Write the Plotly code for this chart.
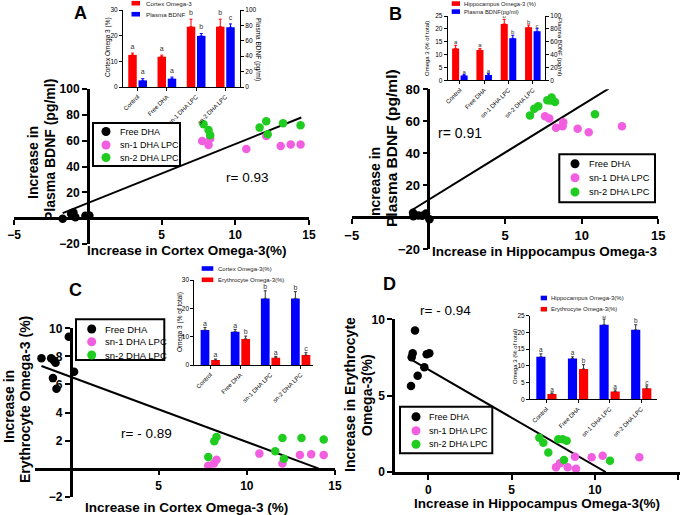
import plotly.graph_objects as go

W, H = 685, 515
FONT = "Liberation Sans, Arial, sans-serif"

# ---------------- data ----------------
group_names = ["Free DHA", "sn-1 DHA LPC", "sn-2 DHA LPC"]
group_colors = ["#000000", "#F25EE0", "#1FCC1F"]
bar_cats = ["Control", "Free DHA", "sn-1 DHA LPC", "sn-2 DHA LPC"]

# Panel A : cortex omega-3 vs plasma BDNF
A_free_x = [-1.70, -1.13, -0.97, -0.84, -0.16, 0.11]
A_free_y = [-0.5, 3.4, 4.4, 0.8, 1.8, 2.1]
A_sn1_x = [7.76, 8.19, 8.30, 10.75, 12.10, 13.08, 13.76, 14.43]
A_sn1_y = [59.7, 56.6, 61.5, 53.5, 63.6, 55.8, 57.1, 57.1]
A_sn2_x = [7.85, 8.19, 8.30, 11.65, 12.10, 12.20, 13.24, 14.43]
A_sn2_y = [72.7, 68.3, 64.2, 70.1, 75.1, 64.9, 73.5, 71.9]
A_fit_x = [-1.70, 14.48]
A_fit_y = [3.9, 77.9]
A_r = "r= 0.93"
A_bar_left = [12.5, 11.8, 23.5, 23.5]
A_bar_left_err = [0.7, 0.6, 2.9, 2.9]
A_bar_left_letters = ["a", "a", "b", "b"]
A_bar_right = [8.6, 10.8, 66.4, 77.6]
A_bar_right_err = [2.2, 2.1, 3.0, 4.3]
A_bar_right_letters = ["a", "a", "b", "c"]

# Panel B : hippocampus omega-3 vs plasma BDNF
B_free_x = [-1.00, -0.98, -0.65, -0.40, -0.15, 0.07]
B_free_y = [2.9, 0.6, 1.2, 0.9, 2.3, -1.2]
B_sn1_x = [7.61, 7.89, 8.33, 8.80, 8.76, 9.74, 10.46, 12.63]
B_sn1_y = [63.1, 61.7, 56.0, 59.4, 56.9, 55.4, 53.1, 56.9]
B_sn2_x = [6.63, 6.91, 7.17, 7.76, 8.04, 8.26, 7.95, 10.87]
B_sn2_y = [63.7, 67.9, 69.4, 73.1, 74.8, 72.1, 73.0, 64.4]
B_fit_x = [-1.09, 11.76]
B_fit_y = [4.4, 80.4]
B_r = "r= 0.91"
B_bar_left = [12.4, 11.8, 21.9, 20.6]
B_bar_left_err = [1.2, 0.6, 1.8, 0.9]
B_bar_left_letters = ["a", "a", "b", "b"]
B_bar_right = [7.3, 8.3, 65.3, 76.2]
B_bar_right_err = [1.5, 2.1, 4.7, 4.1]
B_bar_right_letters = ["a", "a", "b", "c"]

# Panel C : cortex omega-3 vs erythrocyte omega-3
C_free_x = [-1.65, -1.10, -0.95, -0.85, -1.00, -0.80, -0.10, 0.20]
C_free_y = [7.86, 7.86, 7.70, 7.55, 6.45, 5.70, 9.40, 6.90]
C_sn1_x = [7.81, 8.13, 8.28, 10.71, 12.02, 13.01, 13.65, 14.36]
C_sn1_y = [0.21, 0.36, 0.64, 1.07, 0.36, 0.98, 1.02, 0.98]
C_sn2_x = [7.81, 8.15, 8.28, 11.61, 12.02, 12.10, 13.10, 14.36]
C_sn2_y = [0.83, 1.95, 2.26, 1.24, 2.19, 0.71, 2.19, 2.07]
C_fit_x = [-1.65, 14.08]
C_fit_y = [7.31, 0.0]
C_r = "r= - 0.89"
C_bar_left = [12.35, 11.76, 23.5, 23.5]
C_bar_left_err = [0.9, 0.8, 2.7, 2.4]
C_bar_left_letters = ["a", "a", "b", "b"]
C_bar_right = [1.76, 9.2, 2.6, 3.5]
C_bar_right_err = [0.35, 1.0, 0.45, 0.85]
C_bar_right_letters = ["a", "b", "a", "c"]

# Panel D : hippocampus omega-3 vs erythrocyte omega-3
D_free_x = [-0.80, -0.94, -1.00, -1.04, -0.64, -0.24, -0.10, 0.06]
D_free_y = [9.26, 7.77, 7.51, 5.63, 6.31, 6.86, 7.71, 7.77]
D_sn1_x = [7.66, 7.90, 8.36, 8.80, 8.86, 9.80, 10.46, 12.66]
D_sn1_y = [0.31, 0.57, 0.31, 1.00, 0.22, 0.96, 1.07, 0.96]
D_sn2_x = [6.66, 6.90, 7.20, 7.80, 8.06, 8.30, 8.14, 10.90]
D_sn2_y = [2.25, 1.92, 1.27, 2.14, 2.14, 2.05, 0.79, 0.74]
D_fit_x = [-1.00, 10.64]
D_fit_y = [7.34, 0.0]
D_r = "r= - 0.94"
D_bar_left = [12.7, 12.2, 22.3, 20.8]
D_bar_left_err = [0.9, 0.5, 1.7, 1.5]
D_bar_left_letters = ["a", "a", "b", "b"]
D_bar_right = [1.6, 9.07, 2.3, 3.3]
D_bar_right_err = [0.3, 1.3, 0.5, 0.7]
D_bar_right_letters = ["a", "b", "a", "c"]

RED = "#FF0000"
BLUE = "#0000FF"

# ---------------- helpers ----------------
fig = go.Figure()
layout = {}
shapes = []
annots = []


def px(x):
    return x / W


def py(y):
    return 1 - y / H


def ax_name(kind, n):
    return kind if n == 1 else f"{kind}{n}"


def lkey(kind, n):
    return kind + "axis" + ("" if n == 1 else str(n))


def text(x, y, s, size, bold=False, angle=0, xa="center", ya="middle", color="black"):
    annots.append(dict(x=px(x), y=py(y), xref="paper", yref="paper", text=s, showarrow=False,
                       textangle=angle, xanchor=xa, yanchor=ya,
                       font=dict(family=FONT, size=size, color=color,
                                 weight="bold" if bold else "normal")))


def main_panel(nx, ny, xdom, ydom, xr, yr, xtv, ytv, tick_size, series, fit, cross=True):
    # xdom (left px, right px) ; ydom (top px, bottom px)
    xa, ya = ax_name("x", nx), ax_name("y", ny)
    y0px = ydom[1] - (0 - yr[0]) / (yr[1] - yr[0]) * (ydom[1] - ydom[0])
    x0px = xdom[0] + (0 - xr[0]) / (xr[1] - xr[0]) * (xdom[1] - xdom[0])
    common = dict(showline=True, linecolor="black", linewidth=2.5, ticks="outside", ticklen=5,
                  tickwidth=2, tickcolor="black", showgrid=False, zeroline=False,
                  tickfont=dict(family=FONT, size=tick_size, color="black", weight="bold"))
    xl = dict(domain=[px(xdom[0]), px(xdom[1])], range=xr, tickvals=xtv, **common)
    yl = dict(domain=[py(ydom[1]), py(ydom[0])], range=yr, tickvals=ytv, **common)
    if cross:
        xl.update(anchor="free", position=py(y0px))
        yl.update(anchor="free", position=px(x0px))
    else:
        xl.update(anchor=ya)
        yl.update(anchor=xa)
    layout[lkey("x", nx)] = xl
    layout[lkey("y", ny)] = yl
    fig.add_trace(go.Scatter(x=fit[0], y=fit[1], mode="lines", line=dict(color="black", width=2),
                             xaxis=xa, yaxis=ya, showlegend=False, hoverinfo="skip"))
    for (sx, sy), name, col in zip(series, group_names, group_colors):
        fig.add_trace(go.Scatter(x=sx, y=sy, mode="markers", name=name,
                                 marker=dict(color=col, size=8.5, line=dict(width=0)),
                                 xaxis=xa, yaxis=ya, showlegend=False))


def legend_box(x0, y0, x1, y1, rows_y, mx, tx, size):
    shapes.append(dict(type="rect", xref="paper", yref="paper", x0=px(x0), x1=px(x1),
                       y0=py(y1), y1=py(y0), line=dict(color="black", width=2), fillcolor="white",
                       layer="above"))
    r = 4.5
    for yy, name, col in zip(rows_y, group_names, group_colors):
        shapes.append(dict(type="circle", xref="paper", yref="paper", x0=px(mx - r), x1=px(mx + r),
                           y0=py(yy + r), y1=py(yy - r), fillcolor=col, line=dict(width=0),
                           layer="above"))
        text(tx, yy, name, size, xa="left")


def inset(nx, nyl, nyr, xdom, ydom, xr, ylr, yldt, yrr, yrdt, left, right, errcol, gap_px, lsize):
    xa, yal = ax_name("x", nx), ax_name("y", nyl)
    yar = ax_name("y", nyr) if nyr else None
    hpx = ydom[1] - ydom[0]
    ax_common = dict(showline=True, linecolor="black", linewidth=1, ticks="outside", ticklen=3,
                     tickwidth=1, tickcolor="black", showgrid=False, zeroline=False,
                     tickfont=dict(family=FONT, size=6.5, color="black"))
    layout[lkey("x", nx)] = dict(domain=[px(xdom[0]), px(xdom[1])], range=xr, anchor=yal,
                                 tickvals=list(range(len(bar_cats))), ticktext=bar_cats,
                                 tickangle=-45, **{**ax_common,
                                                   "tickfont": dict(family=FONT, size=6, color="black")})
    layout[lkey("y", nyl)] = dict(domain=[py(ydom[1]), py(ydom[0])], range=ylr, dtick=yldt,
                                  anchor=xa, **ax_common)
    if nyr:
        layout[lkey("y", nyr)] = dict(range=yrr, dtick=yrdt, anchor=xa, overlaying=yal, side="right",
                                      **ax_common)
    offs = [-0.32, 0.03]
    wid = 0.29
    for (vals, errs, letters, col, axis), off in zip([left, right], offs):
        yaxis = yal if axis == "l" else yar
        rng = ylr if axis == "l" else yrr
        gap = gap_px * (rng[1] - rng[0]) / hpx
        fig.add_trace(go.Bar(x=list(range(len(vals))), y=vals, width=wid, offset=off,
                             marker=dict(color=col, line=dict(width=0)),
                             error_y=dict(type="data", array=errs, arrayminus=[0] * len(errs),
                                          symmetric=False, color=errcol or col, thickness=1, width=1.5),
                             xaxis=xa, yaxis=yaxis, showlegend=False))
        fig.add_trace(go.Scatter(x=[i + off + wid / 2 for i in range(len(vals))],
                                 y=[v + e + gap for v, e in zip(vals, errs)], mode="text", text=letters,
                                 textposition="middle center",
                                 textfont=dict(family=FONT, size=lsize, color="#333333"),
                                 xaxis=xa, yaxis=yaxis, showlegend=False, hoverinfo="skip"))


def swatch(x0, x1, yc, col, label, tx, size=6.2):
    shapes.append(dict(type="rect", xref="paper", yref="paper", x0=px(x0), x1=px(x1),
                       y0=py(yc + 2.3), y1=py(yc - 2.3), fillcolor=col, line=dict(width=0)))
    text(tx, yc, label, size, xa="left", color="#222222")


# ---------------- Panel A ----------------
main_panel(1, 1, (14, 309), (89, 244), [-5, 15], [-20, 100], [-5, 5, 10, 15],
           [-20, 20, 40, 60, 80, 100], 12,
           [(A_free_x, A_free_y), (A_sn1_x, A_sn1_y), (A_sn2_x, A_sn2_y)], (A_fit_x, A_fit_y))
inset(2, 2, 3, (123, 240), (10, 87), [-0.5, 3.5], [0, 30], 10, [0, 100], 20,
      (A_bar_left, A_bar_left_err, A_bar_left_letters, RED, "l"),
      (A_bar_right, A_bar_right_err, A_bar_right_letters, BLUE, "r"), None, 6, 7)
legend_box(93, 123, 180, 166, [131.5, 145, 157.5], 106, 118, 9)
text(247, 177, A_r, 13.5)
text(80, 13, "A", 18, bold=True)
text(186.5, 250, "Increase in Cortex Omega-3(%)", 13.5, bold=True)
text(33, 163, "Increase in", 14, bold=True, angle=-90)
text(50, 150, "Plasma BDNF (pg/ml)", 14, bold=True, angle=-90)
text(108, 47, "Cortex Omega 3 (%)", 6.5, angle=-90)
text(258, 49, "Plasma BDNF (pg/ml)", 6.5, angle=90)
swatch(131.5, 140, 3.2, RED, "Cortex Omega-3", 144)
swatch(131.5, 140, 14.2, BLUE, "Plasma BDNF", 144)

# ---------------- Panel B ----------------
main_panel(3, 4, (351.7, 658.3), (89.3, 249.3), [-5, 15], [-20, 80], [-5, 5, 10, 15],
           [-20, 20, 40, 60, 80], 13,
           [(B_free_x, B_free_y), (B_sn1_x, B_sn1_y), (B_sn2_x, B_sn2_y)], (B_fit_x, B_fit_y))
inset(4, 5, 6, (447.7, 545), (16, 80.3), [-0.5, 3.5], [0, 25], 5, [0, 100], 20,
      (B_bar_left, B_bar_left_err, B_bar_left_letters, RED, "l"),
      (B_bar_right, B_bar_right_err, B_bar_right_letters, BLUE, "r"), None, 2.5, 6)
legend_box(559.3, 154.3, 655, 202.3, [163.7, 177.7, 192], 575, 586.7, 9.3)
text(459.5, 133, B_r, 14)
text(395, 14, "B", 18, bold=True)
text(545, 252, "Increase in Hippocampus Omega-3", 13.5, bold=True)
text(375, 184, "Increase in", 14, bold=True, angle=-90)
text(392, 148, "Plasma BDNF (pg/ml)", 15.5, bold=True, angle=-90)
text(427, 49, "Omega 3 (% of total)", 6, angle=-90)
text(560, 47, "Plasma BDNF (pg/ml)", 6, angle=90)
swatch(451.7, 460, 3.6, RED, "Hippocampus Omega-3 (%)", 462.3, 5.8)
swatch(451.7, 460, 11.6, BLUE, "Plasma BDNF(pg/ml)", 462.3, 5.8)

# ---------------- Panel C ----------------
main_panel(5, 7, (35.3, 335), (328.3, 496.7), [-2, 15], [-2, 10], [5, 10, 15],
           [-2, 2, 4, 6, 8, 10], 12,
           [(C_free_x, C_free_y), (C_sn1_x, C_sn1_y), (C_sn2_x, C_sn2_y)], (C_fit_x, C_fit_y))
inset(6, 8, None, (194.3, 313.3), (280, 365), [-0.53, 3.42], [0, 30], 10, None, None,
      (C_bar_left, C_bar_left_err, C_bar_left_letters, BLUE, "l"),
      (C_bar_right, C_bar_right_err, C_bar_right_letters, RED, "l"), "#333333", 3.5, 7)
legend_box(76, 319.3, 164.3, 360, [329, 341.7, 355], 91.7, 103.3, 9.5)
text(146, 433, C_r, 13.5)
text(75, 290, "C", 18, bold=True)
text(187, 507, "Increase in Cortex Omega-3 (%)", 13.5, bold=True)
text(9, 407, "Increase in", 14, bold=True, angle=-90)
text(25, 400, "Erythrocyte Omega-3 (%)", 14, bold=True, angle=-90)
text(180, 322, "Omega 3 (% of total)", 6.5, angle=-90)
swatch(201.7, 213.3, 268.5, BLUE, "Cortex Omega-3(%)", 216, 6)
swatch(201.7, 213.3, 279.8, RED, "Erythrocyte Omega-3(%)", 216, 6)

# ---------------- Panel D ----------------
main_panel(7, 9, (395, 680), (319.3, 472), [-2, 15.1], [0, 10], [0, 5, 10, 15],
           [0, 5, 10], 12,
           [(D_free_x, D_free_y), (D_sn1_x, D_sn1_y), (D_sn2_x, D_sn2_y)], (D_fit_x, D_fit_y),
           cross=False)
inset(8, 10, None, (530, 656.7), (315.7, 399.3), [-0.52, 3.49], [0, 25], 5, None, None,
      (D_bar_left, D_bar_left_err, D_bar_left_letters, BLUE, "l"),
      (D_bar_right, D_bar_right_err, D_bar_right_letters, RED, "l"), "#333333", 3, 6.5)
legend_box(400, 406.7, 492.3, 453.3, [416.7, 430.7, 444.3], 416, 427.3, 9)
text(445, 310, D_r, 13.5)
text(389, 284, "D", 18, bold=True)
text(537, 503, "Increase in Hippocampus Omega-3(%)", 13.5, bold=True)
text(350, 395, "Increase in Erythrocyte", 14, bold=True, angle=-90)
text(367, 395, "Omega-3(%)", 14, bold=True, angle=-90)
text(515, 357, "Omega 3 (% of total)", 6, angle=-90)
swatch(540.7, 547, 298.0, BLUE, "Hippocampus Omega-3(%)", 549.3, 6)
swatch(540.7, 547, 309.2, RED, "Erythrocyte Omega-3(%)", 549.3, 6)

fig.update_layout(width=W, height=H, margin=dict(l=0, r=0, t=0, b=0, autoexpand=False),
                  autosize=False,
                  paper_bgcolor="white", plot_bgcolor="rgba(0,0,0,0)", barmode="overlay",
                  showlegend=False, shapes=shapes, annotations=annots,
                  font=dict(family=FONT, color="black"), **layout)
fig.write_html("out.html", config={"displayModeBar": False},
               post_script="document.body.style.margin='0px';document.body.style.overflow='hidden';")
